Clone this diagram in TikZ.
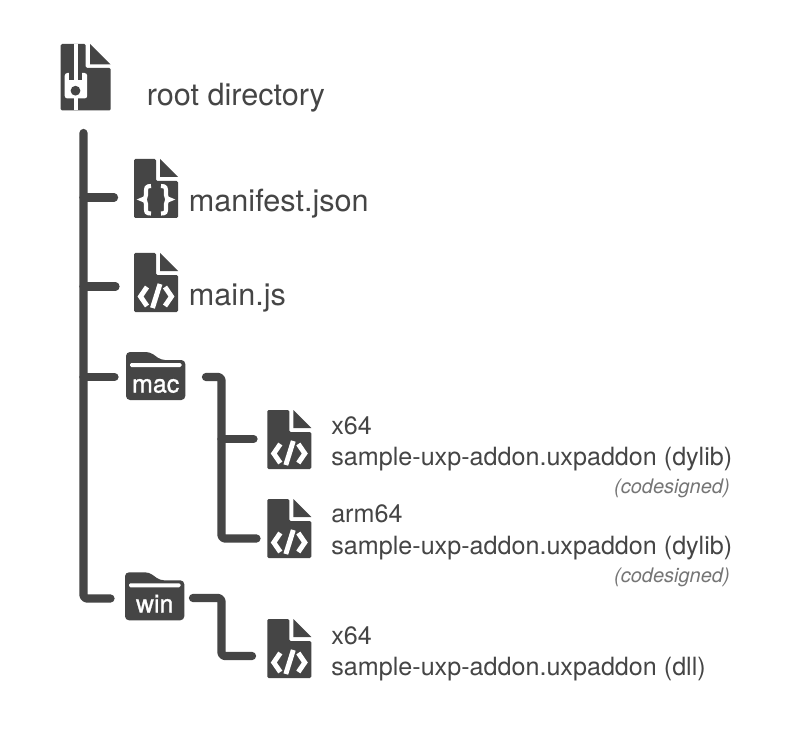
\documentclass[tikz,border=0pt]{standalone}
\usepackage{fontspec}
\setmainfont{TeX Gyre Heros}
\newfontfamily\heavyfont[FakeBold=1.2]{TeX Gyre Heros}
\definecolor{ink}{HTML}{454545}
\definecolor{soft}{HTML}{757575}
\tikzset{
  x=0.75pt,y=-0.75pt,
  tree/.style={draw=ink,line width=6.2pt,line cap=round,line join=round,rounded corners=2.5pt},
  big/.style={anchor=base west,inner sep=0pt,text=ink,font=\fontsize{22.95pt}{26pt}\selectfont},
  mid/.style={anchor=base west,inner sep=0pt,text=ink,font=\fontsize{18.85pt}{22pt}\selectfont},
  note/.style={anchor=base east,inner sep=0pt,text=soft,font=\fontsize{15pt}{17pt}\selectfont\itshape},
  foldertext/.style={anchor=base,inner sep=0pt,text=white,font=\heavyfont\fontsize{18.75pt}{22pt}\selectfont},
  glyph/.style={draw=white,line width=3.7pt,line join=miter,fill=none},
  filebody/.pic={
    \fill[ink,rounded corners=1pt] (0,0) -- (22,0) -- (22,22) -- (44,22) -- (44,59) -- (0,59) -- cycle;
    \fill[ink] (26,0) -- (44,18) -- (26,18) -- cycle;
  },
  codefile/.pic={
    \pic {filebody};
    \draw[glyph] (13,34) -- (6.5,43.5) -- (13,53);
    \draw[glyph] (31,34) -- (37.5,43.5) -- (31,53);
    \draw[glyph] (26,31) -- (18.5,55);
  },
  bracefile/.pic={
    \pic {filebody};
    \draw[glyph,line width=3.1pt] (17,27) .. controls (12,27) and (12,29) .. (12,33) -- (12,36) .. controls (12,39) and (11,40) .. (8,40.5) .. controls (11,41) and (12,42) .. (12,45) -- (12,49) .. controls (12,53) and (12,54.5) .. (17,54.5);
    \draw[glyph,line width=3.1pt] (27,27) .. controls (32,27) and (32,29) .. (32,33) -- (32,36) .. controls (32,39) and (33,40) .. (36,40.5) .. controls (33,41) and (32,42) .. (32,45) -- (32,49) .. controls (32,53) and (32,54.5) .. (27,54.5);
  },
  zipfile/.pic={
    \fill[ink,rounded corners=1pt] (0,0) -- (25,0) -- (25,24) -- (50,24) -- (50,66.5) -- (0,66.5) -- cycle;
    \fill[ink] (29.5,0) -- (50,20.5) -- (29.5,20.5) -- cycle;
    \fill[white,rounded corners=2pt] (4,29) rectangle (26.5,54.5);
    \fill[ink] (8.5,28) rectangle (21.5,36);
    \fill[white] (12.8,0) rectangle (16.8,36);
    \fill[white] (12.8,54) rectangle (16.8,66.5);
    \fill[ink] (14.8,46.7) circle[radius=4.9];
  },
  folder/.pic={
    \fill[ink,rounded corners=3pt] (0,0) -- (24,0) -- (35,8) -- (59.3,8) -- (59.3,48) -- (0,48) -- cycle;
    \fill[white,rounded corners=1pt] (4,11) rectangle (55.5,15);
  },
}
\begin{document}
\begin{tikzpicture}
\useasboundingbox[fill=white] (0,0) rectangle (800,738);
% icons
\pic at (60.7,44) {zipfile};
\pic at (134,159) {bracefile};
\pic at (134,253) {codefile};
\pic at (126,352) {folder};
\pic at (267.3,410) {codefile};
\pic at (267.3,499) {codefile};
\pic at (125,572.3) {folder};
\pic at (267.3,619) {codefile};
% labels
\node[big] (root) at (146.5,106) {root directory};
\node[big] (manifest) at (188.7,212) {manifest.json};
\node[big] (mainjs) at (188.7,305.5) {main.js};
\node[foldertext] (mac) at (155.7,392.5) {mac};
\node[foldertext] (win) at (154.7,612.5) {win};
\node[mid] (xa) at (331,434) {x64};
\node[mid] (addona) at (331,465) {sample-uxp-addon.uxpaddon (dylib)};
\node[note] (notea) at (730,493) {(codesigned)};
\node[mid] (arm) at (331,522) {arm64};
\node[mid] (addonb) at (331,554) {sample-uxp-addon.uxpaddon (dylib)};
\node[note] (noteb) at (730,582) {(codesigned)};
\node[mid] (xb) at (331,644) {x64};
\node[mid] (addonc) at (331,675) {sample-uxp-addon.uxpaddon (dll)};
% connector ends
\coordinate (trunktop) at (83.5,133);
\coordinate (trunkbot) at (83.5,598.5);
\coordinate (tomanifest) at (114,197.5);
\coordinate (onmanifest) at (83.5,197.5);
\coordinate (tomain) at (115.5,286.5);
\coordinate (onmain) at (83.5,286.5);
\coordinate (tomac) at (114.5,377);
\coordinate (onmac) at (83.5,377);
\coordinate (towin) at (110.5,598.5);
\coordinate (macout) at (206,377);
\coordinate (maccorner) at (221.5,377);
\coordinate (macbot) at (221.5,538.5);
\coordinate (tox) at (253.5,439);
\coordinate (onx) at (221.5,439);
\coordinate (toarm) at (256.5,538.5);
\coordinate (winout) at (193,598);
\coordinate (wincorner) at (221.5,598);
\coordinate (winbot) at (221.5,656);
\coordinate (towinx) at (252,656);
% connectors
\draw[tree] (trunktop) -- (trunkbot) -- (towin);
\draw[tree] (onmanifest) -- (tomanifest);
\draw[tree] (onmain) -- (tomain);
\draw[tree] (onmac) -- (tomac);
\draw[tree] (macout) -- (maccorner) -- (macbot) -- (toarm);
\draw[tree] (onx) -- (tox);
\draw[tree] (winout) -- (wincorner) -- (winbot) -- (towinx);
\end{tikzpicture}
\end{document}
